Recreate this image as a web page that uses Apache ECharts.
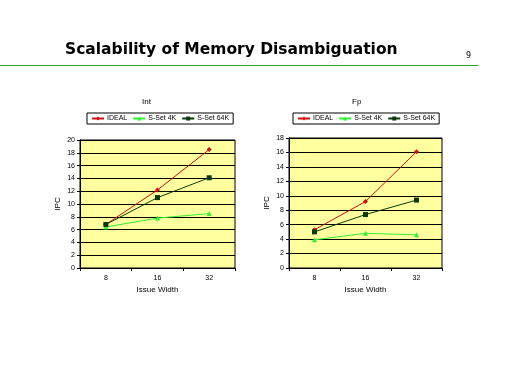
<!DOCTYPE html>
<html><head><meta charset="utf-8">
<script src="https://cdn.jsdelivr.net/npm/echarts@6/dist/echarts.min.js"></script>
<style>html,body{margin:0;padding:0;background:#fff}#c{width:512px;height:384px}</style>
</head><body><div id="c"></div>
<script>
const categories = ['8', '16', '32'];
const seriesNames = ['IDEAL', 'S-Set 4K', 'S-Set 64K'];
const intIdeal = [6.8, 12.2, 18.5];
const intSet4K = [6.4, 7.8, 8.5];
const intSet64K = [6.8, 11.0, 14.1];
const fpIdeal = [5.3, 9.2, 16.1];
const fpSet4K = [3.9, 4.8, 4.6];
const fpSet64K = [5.0, 7.4, 9.4];
const chartTitles = ['Int', 'Fp'];

const colors = ['#cc1111', '#33ee33', '#0a3a0a'];
const symbols = ['diamond', 'triangle', 'rect'];
const font = 'DejaVu Sans';
const narrow = 'Liberation Sans Narrow, Liberation Sans';

const chart = echarts.init(document.getElementById('c'));
const grids = [
  {left: 80, top: 140, width: 155, height: 128},
  {left: 289, top: 138, width: 153, height: 130}
];
function xAxis(i) {
  return {gridIndex: i, type: 'category', data: categories, boundaryGap: true,
    name: 'Issue Width', nameLocation: 'middle', nameGap: 18,
    nameTextStyle: {fontFamily: narrow, fontSize: 8, color: '#000'},
    axisLine: {lineStyle: {color: '#000', width: 1}},
    axisTick: {show: true, inside: false, length: 3, lineStyle: {color: '#000'}},
    axisLabel: {fontFamily: narrow, fontSize: 7, color: '#000', margin: 7},
    splitLine: {show: false}};
}
function yAxis(i, max) {
  return {gridIndex: i, type: 'value', min: 0, max: max, interval: 2,
    name: 'IPC', nameLocation: 'middle', nameGap: 18, nameRotate: 90,
    nameTextStyle: {fontFamily: narrow, fontSize: 8, color: '#000'},
    axisLine: {show: true, lineStyle: {color: '#000', width: 1}},
    axisTick: {show: true, length: 3, lineStyle: {color: '#000'}},
    axisLabel: {fontFamily: narrow, fontSize: 7, color: '#000', margin: 5},
    splitLine: {show: true, lineStyle: {color: '#000', width: 1}}};
}
const data = [[intIdeal, intSet4K, intSet64K], [fpIdeal, fpSet4K, fpSet64K]];
const series = [];
for (let g = 0; g < 2; g++) {
  for (let s = 0; s < 3; s++) {
    series.push({type: 'line', name: seriesNames[s], xAxisIndex: g, yAxisIndex: g,
      data: data[g][s], symbol: symbols[s], symbolSize: 5, showSymbol: true,
      lineStyle: {color: colors[s], width: 1}, itemStyle: {color: colors[s]},
      animation: false, z: 3});
  }
}
const gridOpts = grids.map(g => Object.assign({}, g, {show: true, backgroundColor: '#ffff9f', borderColor: '#000', borderWidth: 1}));
const legendBase = {width: 300, itemWidth: 12, itemHeight: 5, itemGap: 5, padding: [2, 4],
  borderColor: '#000', borderWidth: 1, data: seriesNames,
  textStyle: {fontFamily: narrow, fontSize: 7, color: '#000', padding: [0, 0, 0, -2]}};
chart.setOption({
  animation: false,
  title: [
    {text: 'Scalability of Memory Disambiguation', left: 60, top: 37,
      textStyle: {fontFamily: font, fontSize: 15.5, fontWeight: 'bold', color: '#000'}},
    {text: '9', left: 461, top: 47, textStyle: {fontFamily: font, fontSize: 8, fontWeight: 'normal', color: '#000'}},
    {text: chartTitles[0], left: 137, top: 93, textStyle: {fontFamily: narrow, fontSize: 8, fontWeight: 'normal', color: '#000'}},
    {text: chartTitles[1], left: 347, top: 93, textStyle: {fontFamily: narrow, fontSize: 8, fontWeight: 'normal', color: '#000'}}
  ],
  graphic: [
    {type: 'line', shape: {x1: 0, y1: 65.5, x2: 478, y2: 65.5}, style: {stroke: '#2ea02e', lineWidth: 1}}
  ],
  legend: [
    Object.assign({left: 87, top: 113}, legendBase),
    Object.assign({left: 293, top: 113}, legendBase)
  ],
  grid: gridOpts,
  xAxis: [xAxis(0), xAxis(1)],
  yAxis: [yAxis(0, 20), yAxis(1, 18)],
  series: series
});
</script></body></html>
